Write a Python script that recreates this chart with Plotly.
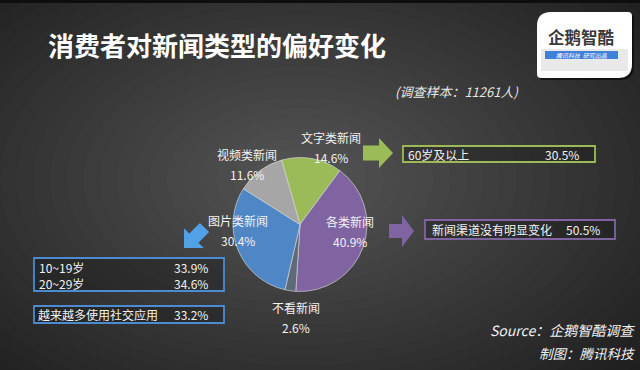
import math
import plotly.graph_objects as go

W, H = 640, 370

# ---------------- data ----------------
categories = ["文字类新闻", "各类新闻", "不看新闻", "图片类新闻", "视频类新闻"]
shares = [14.6, 40.9, 2.6, 30.4, 11.6]

green_rows_labels = ["60岁及以上"]
green_rows_values = [30.5]
purple_rows_labels = ["新闻渠道没有明显变化"]
purple_rows_values = [50.5]
blue_rows_labels = ["10~19岁", "20~29岁"]
blue_rows_values = [33.9, 34.6]
blue2_rows_labels = ["越来越多使用社交应用"]
blue2_rows_values = [33.2]

title_text = "消费者对新闻类型的偏好变化"
subtitle_text = "(调查样本：11261人)"
source_text = "Source：企鹅智酷调查"
maker_text = "制图：腾讯科技"
logo_text = "企鹅智酷"
logo_sub = "腾讯科技  研究出品"

# ---------------- styles ----------------
FONT = "Noto Sans CJK SC"
slice_colors = ["#9bbb59", "#8064a2", "#5e6a78", "#4f86c6", "#a6a6a6"]
GREEN, PURPLE, BLUE, BLUE_ARROW = "#9bbb59", "#8064a2", "#4a8bd2", "#52a0e6"

# label centres (x, y-name, y-percent) in pixels, same order as categories
label_pos = [(331, 137, 157), (350, 221, 241), (296, 307, 327), (238, 220, 240), (247, 154, 174)]

cx, cy, r = 300, 224.5, 67


def px(x):
    return x / W


def py(y):
    return 1 - y / H


def P(x, y):
    return f"{px(x):.5f},{py(y):.5f}"


fig = go.Figure()
fig.add_trace(go.Pie(
    labels=categories, values=shares, sort=False, direction="clockwise",
    rotation=-16, textinfo="none", hoverinfo="label+percent",
    marker=dict(colors=slice_colors, line=dict(color="rgba(225,225,225,0.6)", width=1)),
    domain=dict(x=[px(cx - r), px(cx + r)], y=[py(cy + r), py(cy - r)]),
    showlegend=False,
))

shapes = []
# background radial gradient made of stacked translucent ellipses
N = 30
gcx, gcy = 300, 180
for i in range(N):
    f = 1 - i / N
    rx, ry = 500 * f, 310 * f
    shapes.append(dict(type="circle", xref="paper", yref="paper", layer="below",
                       x0=px(gcx - rx), x1=px(gcx + rx), y0=py(gcy + ry), y1=py(gcy - ry),
                       fillcolor="rgba(255,255,255,0.0105)", line=dict(width=0)))
# dark top edge
shapes.append(dict(type="rect", xref="paper", yref="paper", layer="below",
                   x0=0, x1=1, y0=py(3), y1=1, fillcolor="#0e0e0e", line=dict(width=0)))


def arrow(tip, ang_deg, L, h, w, Wd, color):
    t = math.radians(ang_deg)
    ux, uy = math.cos(t), math.sin(t)
    vx, vy = -uy, ux
    pts = [(-L, -w), (-h, -w), (-h, -Wd), (0, 0), (-h, Wd), (-h, w), (-L, w)]
    s = []
    for k, (a, b) in enumerate(pts):
        X = tip[0] + a * ux + b * vx
        Y = tip[1] + a * uy + b * vy
        s.append(("M " if k == 0 else "L ") + P(X, Y))
    return dict(type="path", xref="paper", yref="paper", layer="above",
                path=" ".join(s) + " Z", fillcolor=color, line=dict(width=0))


shapes.append(arrow((393, 153), 0, 30, 14, 7.5, 15, GREEN))
shapes.append(arrow((414, 231), 0, 25, 12, 7, 16, PURPLE))
shapes.append(arrow((184, 248), 135, 29, 14, 6.5, 14, BLUE_ARROW))


def box(x0, y0, x1, y1, color):
    return dict(type="rect", xref="paper", yref="paper", layer="above",
                x0=px(x0), x1=px(x1), y0=py(y1), y1=py(y0),
                fillcolor="rgba(20,20,20,0.35)", line=dict(color=color, width=1.8))


shapes.append(box(403, 146, 595, 162, GREEN))
shapes.append(box(425, 220, 615, 239, PURPLE))
shapes.append(box(34, 258, 224, 291, BLUE))
shapes.append(box(34, 306, 224, 323, BLUE))


# logo
def leaf(x0, y0, x1, y1, R, rr):
    return ("M " + P(x0 + R, y0) + " L " + P(x1 - rr, y0) + " Q " + P(x1, y0) + " " + P(x1, y0 + rr) +
            " L " + P(x1, y1 - R) + " Q " + P(x1, y1) + " " + P(x1 - R, y1) +
            " L " + P(x0 + rr, y1) + " Q " + P(x0, y1) + " " + P(x0, y1 - rr) +
            " L " + P(x0, y0 + R) + " Q " + P(x0, y0) + " " + P(x0 + R, y0) + " Z")


shapes.append(dict(type="path", xref="paper", yref="paper", layer="above",
                   path=leaf(539, 14, 634, 80, 14, 4), fillcolor="rgba(0,0,0,0.55)", line=dict(width=0)))
shapes.append(dict(type="path", xref="paper", yref="paper", layer="above",
                   path=leaf(537, 12, 632, 78, 14, 4), fillcolor="#ffffff", line=dict(width=0)))
shapes.append(dict(type="rect", xref="paper", yref="paper", layer="above",
                   x0=px(541), x1=px(628), y0=py(71), y1=py(49), fillcolor="#e9e9e9", line=dict(width=0)))
shapes.append(dict(type="rect", xref="paper", yref="paper", layer="above",
                   x0=px(545), x1=px(618), y0=py(59), y1=py(51), fillcolor="#3f80d8", line=dict(width=0)))

ann = []


def text(x, y, s, size=12, color="#f2f2f2", xanchor="center", weight="normal", style="normal"):
    ann.append(dict(xref="paper", yref="paper", x=px(x), y=py(y), text=s, showarrow=False,
                    xanchor=xanchor, yanchor="middle",
                    font=dict(family=FONT, size=size, color=color, weight=weight, style=style)))


# pie labels
for name, v, (lx, ly1, ly2) in zip(categories, shares, label_pos):
    text(lx, ly1, name, 12)
    text(lx, ly2, f"{v:.1f}%", 12)

# callout rows
def rows(labels, values, lx, rx, ys):
    for lab, val, yy in zip(labels, values, ys):
        text(lx, yy, lab, 12, xanchor="left")
        text(rx, yy, f"{val:.1f}%", 12, xanchor="right")


rows(green_rows_labels, green_rows_values, 406, 581, [154])
rows(purple_rows_labels, purple_rows_values, 430, 602, [229.5])
rows(blue_rows_labels, blue_rows_values, 37, 210, [267, 283])
rows(blue2_rows_labels, blue2_rows_values, 36, 210, [314.5])

# titles
text(46, 45, title_text, 26, color="#ffffff", xanchor="left", weight="bold")
text(393, 91, subtitle_text, 13, color="#e6e6e6", xanchor="left", style="italic")
text(637, 330, source_text, 14, color="#f0f0f0", xanchor="right", style="italic")
text(637, 353, maker_text, 13.5, color="#f0f0f0", xanchor="right", style="italic")
# logo text
text(581.5, 37, logo_text, 16.5, color="#3a3a3a", weight="bold")
text(581.5, 55, logo_sub, 6, color="#ffffff", style="italic")

fig.update_layout(
    width=W, height=H, margin=dict(l=0, r=0, t=0, b=0),
    paper_bgcolor="#181818", plot_bgcolor="#181818",
    shapes=shapes, annotations=ann,
)

fig.write_html("out.html")
